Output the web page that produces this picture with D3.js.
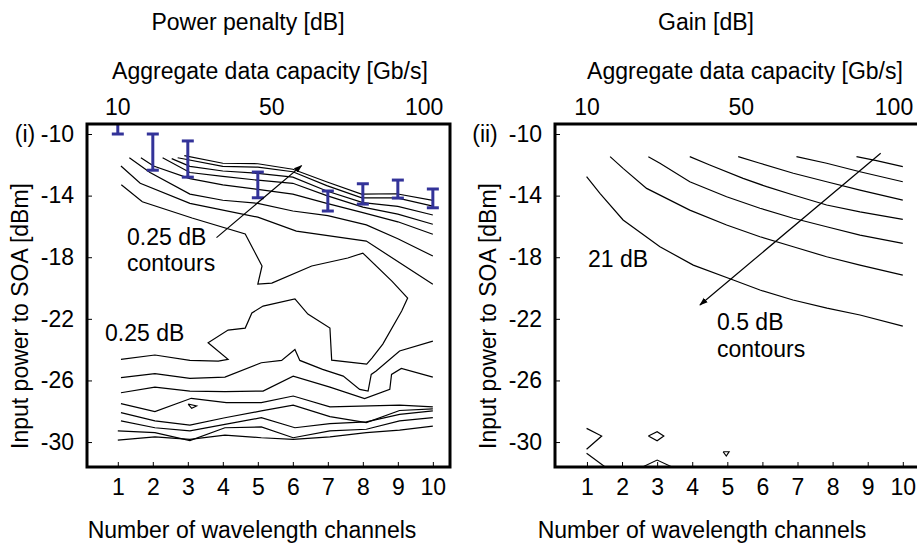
<!DOCTYPE html>
<html>
<head>
<meta charset="utf-8">
<script src="https://cdn.jsdelivr.net/npm/d3@7"></script>
<style>
  body { margin: 0; background: #fff; }
  text { font-family: "Liberation Sans", Arial, sans-serif; fill: #000; }
</style>
</head>
<body>
<div id="chart"></div>
<script>
// channel numbers and top axis labels
const channels = [1, 2, 3, 4, 5, 6, 7, 8, 9, 10];
const powerTicks = [-10, -14, -18, -22, -26, -30];
const capacityLabels = ["10", "50", "100"];
const capacityAt = [1, 5.4, 9.75];

// (i) power penalty: error bars
const errCh = [1, 2, 3, 5, 7, 8, 9, 10];
const errLow = [-10.0, -12.35, -12.8, -14.14, -15.0, -14.55, -14.16, -14.79];
const errHigh = [-9.0, -10.0, -10.45, -12.47, -13.7, -13.23, -12.99, -13.57];

// (i) power penalty contour lines [channels, dBm]
const penaltyContours = [
  [[2.9,-11.4],[4,-11.9],[5,-11.93],[6,-12.29],[6.96,-13.1],[7.96,-13.9],[8.96,-13.88],[10,-14.31]],
  [[2.71,-11.54],[4,-12.1],[5,-12.15],[6,-12.45],[6.97,-13.35],[7.97,-14.15],[8.97,-14.15],[10,-14.68]],
  [[2.54,-11.6],[3.06,-12.1],[4,-12.4],[5,-12.55],[6,-12.8],[6.97,-13.7],[8,-14.45],[9,-14.7],[10,-15.26]],
  [[2.28,-11.54],[3.06,-12.5],[4,-12.75],[5,-13.0],[6,-13.2],[6.97,-14.0],[8,-14.75],[9,-15.2],[10,-15.86]],
  [[1.66,-11.54],[2.02,-12.08],[3.06,-12.9],[4,-13.3],[5,-13.6],[6,-13.9],[6.97,-14.5],[8,-15.1],[9,-15.7],[10,-16.51]],
  [[1.33,-11.54],[1.92,-12.5],[3.06,-13.9],[4,-14.3],[5,-14.5],[6,-15.0],[7,-15.3],[8.1,-15.9],[9,-16.8],[10,-17.92]],
  [[1.09,-12.08],[1.64,-13.2],[3.06,-14.5],[5,-15.4],[6.1,-16.3],[8.1,-16.95],[10,-19.76]],
  [[1.1,-13.3],[1.7,-14.4],[3.12,-15.45],[4.64,-16.49],[5.12,-18.57],[5.0,-19.74],[5.4,-19.68],[6.54,-18.57],
   [7.57,-18.05],[8.0,-17.73],[8.83,-19.55],[9.28,-20.65],[9.11,-21.49],[8.57,-23.64],[8.26,-24.55],[8.11,-24.94],
   [7.11,-24.68],[7.06,-22.6],[6.43,-21.69],[6.06,-20.71],[5.15,-21.17],[4.83,-21.62],[4.64,-22.6],[4.15,-22.73],
   [3.58,-23.55],[4.15,-24.63],[3.87,-24.74],[3.06,-24.7],[2.06,-24.35],[1.09,-24.63]],
  [[1.09,-25.82],[2.06,-25.56],[3.06,-25.87],[4.06,-25.78],[5.1,-24.85],[5.68,-24.7],[6.06,-23.99],[6.2,-24.7],
   [6.85,-25.28],[7.44,-25.72],[7.91,-26.58],[8.15,-26.69],[8.24,-25.61],[8.38,-25.39],[9.05,-24.09],[10.0,-23.45]],
  [[1.09,-26.8],[2.06,-26.43],[3.06,-26.69],[4.06,-26.73],[5.15,-26.69],[6.01,-25.72],[7.06,-26.43],[8.05,-27.18],
   [8.77,-26.58],[8.82,-25.61],[9.1,-25.22],[10.0,-25.78]],
  [[1.09,-27.5],[2.06,-28.02],[3.1,-27.16],[4.1,-27.44],[5.1,-27.44],[6.01,-27.01],[7.06,-27.72],[9.05,-27.6],[10,-27.72]],
  [[1.09,-28.09],[2.06,-28.63],[3.06,-28.9],[4.06,-28.42],[5.1,-27.98],[6.01,-27.6],[7.06,-28.35],[8.1,-28.74],[9.05,-27.95],[10,-27.85]],
  [[1.09,-28.63],[2.06,-29.07],[3.06,-29.28],[4.06,-28.85],[5.1,-28.42],[6.06,-29.07],[7.06,-28.8],[8.1,-28.69],[9.05,-28.2],[10,-27.98]],
  [[1.0,-29.28],[2.06,-29.39],[3.06,-29.9],[4.06,-29.07],[5.1,-29.02],[6.01,-29.72],[7.06,-29.28],[8.1,-29.17],[9.05,-28.63],[10,-28.42]],
  [[1.0,-29.88],[2.06,-29.66],[3.06,-29.82],[4.06,-29.55],[5.1,-29.72],[6.01,-29.82],[7.06,-29.66],[8.1,-29.39],[9.05,-29.23],[10,-28.96]],
  [[3.01,-27.53],[3.25,-27.66],[3.11,-27.81],[3.01,-27.53]]
];

// (ii) gain contour lines [channels, dBm]
const gainContours = [
  [[0.99,-12.77],[1.37,-13.85],[2.03,-15.58],[3.08,-17.32],[4.03,-18.51],[5.17,-19.48],[5.93,-20.13],[6.87,-20.78],[7.84,-21.3],[8.78,-21.75],[10,-22.47]],
  [[1.66,-11.47],[2.03,-12.23],[2.7,-13.53],[3.93,-14.94],[4.98,-15.91],[5.93,-16.67],[6.88,-17.32],[7.83,-17.97],[8.78,-18.51],[10,-19.16]],
  [[2.75,-11.47],[3.08,-11.9],[3.93,-13.1],[4.98,-14.07],[5.93,-14.82],[6.88,-15.47],[7.83,-16.02],[8.78,-16.56],[10,-17.1]],
  [[3.93,-11.47],[4.5,-12.01],[5.45,-12.88],[6.12,-13.42],[6.88,-13.96],[7.83,-14.61],[8.78,-15.05],[10,-15.54]],
  [[5.31,-11.47],[5.93,-11.9],[6.88,-12.55],[7.83,-13.1],[8.78,-13.64],[10,-14.29]],
  [[6.97,-11.47],[7.83,-11.9],[8.78,-12.45],[10,-13.1]],
  [[8.68,-11.47],[9.25,-11.73],[10,-12.12]],
  [[0.99,-29.11],[1.42,-29.61],[0.99,-30.47]],
  [[0.99,-30.73],[1.51,-31.6]],
  [[2.75,-29.61],[3.0,-29.33],[3.19,-29.61],[3.0,-29.92],[2.75,-29.61]],
  [[2.6,-31.6],[3.0,-31.17],[3.41,-31.6]],
  [[4.88,-30.63],[5.05,-30.63],[4.97,-30.91],[4.88,-30.63]]
];

const FS = "23px";

const svg = d3.select("#chart").append("svg")
    .attr("width", 917)
    .attr("height", 544);

const defs = svg.append("defs");
defs.append("marker")
    .attr("id", "head")
    .attr("viewBox", "0 0 10 10")
    .attr("refX", 9).attr("refY", 5)
    .attr("markerWidth", 7).attr("markerHeight", 7)
    .attr("orient", "auto")
    .append("path").attr("d", "M0,1.5L10,5L0,8.5Z").attr("fill", "#000");

const y = d3.scaleLinear().domain([-31.62, -9.35]).range([467, 124]);

function panel(opts) {
    const x = d3.scaleLinear().domain(opts.xdom).range(opts.xrange);
    const g = svg.append("g");

    defs.append("clipPath").attr("id", opts.id + "clip")
        .append("rect")
        .attr("x", opts.xrange[0]).attr("y", 124)
        .attr("width", opts.xrange[1] - opts.xrange[0]).attr("height", 343);

    const line = d3.line().x(d => x(d[0])).y(d => y(d[1]));
    const plot = g.append("g").attr("clip-path", `url(#${opts.id}clip)`);

    plot.selectAll("path.contour")
        .data(opts.contours)
        .join("path")
        .attr("class", "contour")
        .attr("d", line)
        .attr("fill", "none")
        .attr("stroke", "#000")
        .attr("stroke-width", 1.2);

    // bottom axis, inward ticks
    const xAxis = g.append("g")
        .attr("transform", "translate(0,467)")
        .call(d3.axisBottom(x).tickValues(channels).tickSize(-5).tickPadding(12).tickSizeOuter(0));
    xAxis.select(".domain").remove();
    xAxis.selectAll("text").style("font-size", FS).style("font-family", "Liberation Sans, Arial, sans-serif");

    const yAxis = g.append("g")
        .attr("transform", `translate(${opts.xrange[0]},0)`)
        .call(d3.axisLeft(y).tickValues(powerTicks).tickSize(-5).tickPadding(13).tickFormat(d => String(d)));
    yAxis.select(".domain").remove();
    yAxis.selectAll("text").style("font-size", FS).style("font-family", "Liberation Sans, Arial, sans-serif");

    // frame
    g.append("rect")
        .attr("x", opts.xrange[0]).attr("y", 124)
        .attr("width", opts.xrange[1] - opts.xrange[0]).attr("height", 343)
        .attr("fill", "none").attr("stroke", "#000").attr("stroke-width", 3);

    // top capacity labels
    g.selectAll("text.cap")
        .data(capacityLabels)
        .join("text")
        .attr("class", "cap")
        .attr("x", (d, i) => x(capacityAt[i]))
        .attr("y", 115)
        .attr("text-anchor", "middle")
        .style("font-size", FS)
        .text(d => d);

    g.append("text").attr("x", opts.titleX).attr("y", 30).attr("text-anchor", "middle").style("font-size", FS).text(opts.title);
    g.append("text").attr("x", opts.capX).attr("y", 79).attr("text-anchor", "middle").style("font-size", FS).text("Aggregate data capacity [Gb/s]");
    g.append("text").attr("x", opts.bottomX).attr("y", 538).attr("text-anchor", "middle").style("font-size", FS).text("Number of wavelength channels");
    g.append("text")
        .attr("transform", `translate(${opts.ylabX},316) rotate(-90)`)
        .attr("text-anchor", "middle")
        .style("font-size", FS)
        .text("Input power to SOA [dBm]");
    g.append("text").attr("x", opts.tagX).attr("y", 142).attr("text-anchor", "middle").style("font-size", FS).text(opts.tag);

    return { x, g, plot };
}

// (i) power penalty
const p1 = panel({
    id: "p1", xdom: [0.12, 10.49], xrange: [87, 450], contours: penaltyContours,
    title: "Power penalty [dB]", titleX: 248, capX: 270, bottomX: 252, ylabX: 28, tag: "(i)", tagX: 25
});

const errColor = "rgb(51,51,153)";
p1.plot.selectAll("g.err")
    .data(errCh)
    .join("g")
    .attr("class", "err")
    .each(function (d, i) {
        const gg = d3.select(this);
        const px = p1.x(d);
        gg.append("line").attr("x1", px).attr("x2", px).attr("y1", y(errLow[i])).attr("y2", y(errHigh[i]));
        gg.append("line").attr("x1", px - 6).attr("x2", px + 6).attr("y1", y(errLow[i])).attr("y2", y(errLow[i]));
        gg.append("line").attr("x1", px - 6).attr("x2", px + 6).attr("y1", y(errHigh[i])).attr("y2", y(errHigh[i]));
        gg.selectAll("line").attr("stroke", errColor).attr("stroke-width", 3);
    });

p1.g.append("line")
    .attr("x1", p1.x(3.82)).attr("y1", y(-16.73))
    .attr("x2", p1.x(6.25)).attr("y2", y(-12.05))
    .attr("stroke", "#000").attr("stroke-width", 1.2)
    .attr("marker-end", "url(#head)");

p1.g.append("text").attr("x", 127).attr("y", 245).style("font-size", FS).text("0.25 dB");
p1.g.append("text").attr("x", 127).attr("y", 271).style("font-size", FS).text("contours");
p1.g.append("text").attr("x", 105).attr("y", 341).style("font-size", FS).text("0.25 dB");

// (ii) gain
const p2 = panel({
    id: "p2", xdom: [0.09, 10.49], xrange: [555, 920], contours: gainContours,
    title: "Gain [dB]", titleX: 706, capX: 745, bottomX: 702, ylabX: 496, tag: "(ii)", tagX: 485
});

p2.g.append("line")
    .attr("x1", p2.x(9.37)).attr("y1", y(-11.25))
    .attr("x2", p2.x(4.22)).attr("y2", y(-21.1))
    .attr("stroke", "#000").attr("stroke-width", 1.2)
    .attr("marker-end", "url(#head)");

p2.g.append("text").attr("x", 588).attr("y", 267).style("font-size", FS).text("21 dB");
p2.g.append("text").attr("x", 717).attr("y", 330).style("font-size", FS).text("0.5 dB");
p2.g.append("text").attr("x", 717).attr("y", 357).style("font-size", FS).text("contours");
</script>
</body>
</html>
